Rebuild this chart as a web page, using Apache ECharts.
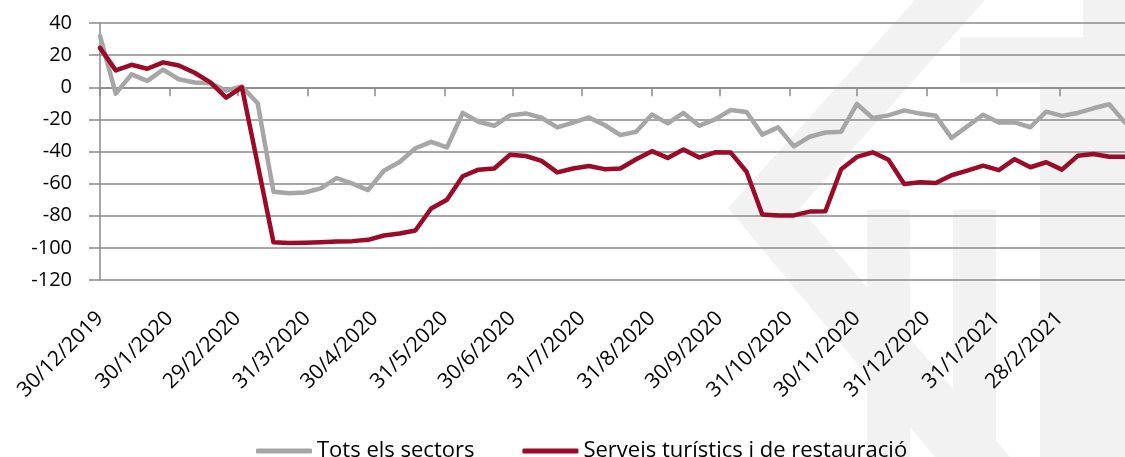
<!DOCTYPE html>
<html>
<head>
<meta charset="utf-8">
<script src="https://cdn.jsdelivr.net/npm/echarts@6/dist/echarts.min.js"></script>
<style>
  html, body { margin: 0; padding: 0; background: #fff; }
  .wrap { position: relative; width: 1125px; height: 457px; }
  .wm { position: absolute; left: 0; top: 0; }
  #chart { position: absolute; left: 0; top: 0; width: 1125px; height: 457px; }
</style>
</head>
<body>
<div class="wrap">
  <!-- marca d'aigua de fons -->
  <svg class="wm" width="1125" height="457">
    <g fill="#f2f2f2">
      <polygon points="915,0 985,0 800,208 1010,457 935,457 728,208"/>
      <rect x="960" y="37" width="123" height="46"/>
      <rect x="1083" y="0" width="42" height="457"/>
      <rect x="867" y="210" width="43" height="247"/>
      <rect x="953" y="210" width="43" height="247"/>
      <rect x="1040" y="83" width="43" height="374"/>
    </g>
  </svg>
  <div id="chart"></div>
</div>
<script>
// setmanes (dilluns)
const weekDates = [
  '2019-12-30', '2020-01-06', '2020-01-13', '2020-01-20', '2020-01-27', '2020-02-03',
  '2020-02-10', '2020-02-17', '2020-02-24', '2020-03-02', '2020-03-09', '2020-03-16',
  '2020-03-23', '2020-03-30', '2020-04-06', '2020-04-13', '2020-04-20', '2020-04-27',
  '2020-05-04', '2020-05-11', '2020-05-18', '2020-05-25', '2020-06-01', '2020-06-08',
  '2020-06-15', '2020-06-22', '2020-06-29', '2020-07-06', '2020-07-13', '2020-07-20',
  '2020-07-27', '2020-08-03', '2020-08-10', '2020-08-17', '2020-08-24', '2020-08-31',
  '2020-09-07', '2020-09-14', '2020-09-21', '2020-09-28', '2020-10-05', '2020-10-12',
  '2020-10-19', '2020-10-26', '2020-11-02', '2020-11-09', '2020-11-16', '2020-11-23',
  '2020-11-30', '2020-12-07', '2020-12-14', '2020-12-21', '2020-12-28', '2021-01-04',
  '2021-01-11', '2021-01-18', '2021-01-25', '2021-02-01', '2021-02-08', '2021-02-15',
  '2021-02-22', '2021-03-01', '2021-03-08', '2021-03-15', '2021-03-22', '2021-03-29'
]

const totsSectors = [
  32, -4, 8, 4, 11, 5, 3, 2.5, -2, 0.5, -10, -65,
  -66, -65.5, -63, -56.5, -60, -64, -52, -46.5, -38, -34, -37.5, -16,
  -21.5, -24, -17.5, -16.3, -19, -25, -22, -18.8, -23.5, -29.8, -27.7, -17,
  -22.5, -16, -24, -20, -14.2, -15.4, -29.5, -25, -36.8, -30.8, -28.2, -27.7,
  -10.4, -19.2, -17.5, -14.4, -16.4, -17.8, -31.5, -24.4, -17.1, -21.9, -21.9, -24.9,
  -15.2, -17.8, -16, -13.1, -10.6, -22
]

const serveisTuristics = [
  24.5, 10.5, 14, 11.5, 15.5, 13.5, 9, 3, -6.5, 0, -48, -96.5,
  -97, -96.8, -96.5, -96, -95.8, -95, -92.3, -91, -89.2, -75.5, -70, -55.4,
  -51.3, -50.6, -42, -42.8, -45.8, -53, -50.6, -49, -51, -50.6, -44.8, -39.8,
  -44, -38.8, -43.8, -40.5, -40.7, -52.6, -79.2, -79.8, -79.8, -77.4, -77.2, -51,
  -43.4, -40.5, -45.1, -60.2, -59.2, -59.6, -54.8, -51.9, -48.8, -51.6, -44.8, -49.8,
  -46.7, -51.3, -42.7, -41.6, -43.3, -43.3
]

const tickDates = [
  '2019-12-30', '2020-01-30', '2020-02-29', '2020-03-31', '2020-04-30', '2020-05-31',
  '2020-06-30', '2020-07-31', '2020-08-31', '2020-09-30', '2020-10-31', '2020-11-30',
  '2020-12-31', '2021-01-31', '2021-02-28'
]
const tickLabels = [
  '30/12/2019', '30/1/2020', '29/2/2020', '31/3/2020', '30/4/2020', '31/5/2020',
  '30/6/2020', '31/7/2020', '31/8/2020', '30/9/2020', '31/10/2020', '30/11/2020',
  '31/12/2020', '31/1/2021', '28/2/2021'
]

const yTicks = [-120, -100, -80, -60, -40, -20, 0, 20, 40]

const FONT = '"Open Sans", "Noto Sans", sans-serif'
const GRID_COLOR = '#8a8a8a'
const GRAY = '#a6a6a6'
const RED = '#9b0a26'

const toTime = d => Date.parse(d)
const tickValues = tickDates.map(toTime)
const xMin = toTime(weekDates[0])
const xMax = toTime(weekDates[weekDates.length - 1])

const chart = echarts.init(document.getElementById('chart'), null, { renderer: 'canvas' })

const option = {
  animation: false,
  backgroundColor: 'transparent',
  textStyle: { fontFamily: FONT },
  grid: { left: 100, right: 0, top: 23, bottom: 177 },
  legend: {
    left: 251,
    top: 435,
    itemWidth: 56,
    itemHeight: 5,
    itemGap: 48,
    icon: 'roundRect',
    textStyle: { fontSize: 22, color: '#000', fontFamily: FONT },
    data: ['Tots els sectors', 'Serveis turístics i de restauració']
  },
  xAxis: [
    {
      type: 'value',
      min: xMin,
      max: xMax,
      position: 'bottom',
      axisLine: { show: false, onZero: false },
      axisTick: { show: false },
      splitLine: { show: false },
      axisLabel: {
        customValues: tickValues,
        rotate: 45,
        margin: 35,
        align: 'right',
        verticalAlign: 'middle',
        fontSize: 21,
        color: '#000',
        fontFamily: FONT,
        formatter: v => {
          const i = tickValues.indexOf(v)
          return i >= 0 ? tickLabels[i] : ''
        }
      }
    },
    {
      type: 'value',
      min: xMin,
      max: xMax,
      position: 'top',
      axisLine: { show: true, onZero: true, lineStyle: { color: GRID_COLOR, width: 1.5 } },
      axisTick: { show: true, inside: true, length: 9, customValues: tickValues, lineStyle: { color: GRID_COLOR, width: 1.5 } },
      axisLabel: { show: false },
      splitLine: { show: false }
    }
  ],
  yAxis: {
    type: 'value',
    min: yTicks[0],
    max: yTicks[yTicks.length - 1],
    interval: 20,
    axisLine: { show: true, onZero: false, lineStyle: { color: GRID_COLOR, width: 1.5 } },
    axisTick: { show: true, length: 11, lineStyle: { color: GRID_COLOR, width: 1.5 } },
    splitLine: { show: true, lineStyle: { color: GRID_COLOR, width: 1.5 } },
    axisLabel: { fontSize: 20, color: '#000', margin: 28, fontFamily: FONT }
  },
  series: [
    {
      name: 'Tots els sectors',
      type: 'line',
      symbol: 'none',
      xAxisIndex: 0,
      lineStyle: { color: GRAY, width: 4.5, join: 'round', cap: 'round' },
      itemStyle: { color: GRAY },
      data: weekDates.map((d, i) => [toTime(d), totsSectors[i]])
    },
    {
      name: 'Serveis turístics i de restauració',
      type: 'line',
      symbol: 'none',
      xAxisIndex: 0,
      lineStyle: { color: RED, width: 4.5, join: 'round', cap: 'round' },
      itemStyle: { color: RED },
      data: weekDates.map((d, i) => [toTime(d), serveisTuristics[i]])
    }
  ]
}

chart.setOption(option)
window.addEventListener('resize', () => chart.resize())
</script>
</body>
</html>
